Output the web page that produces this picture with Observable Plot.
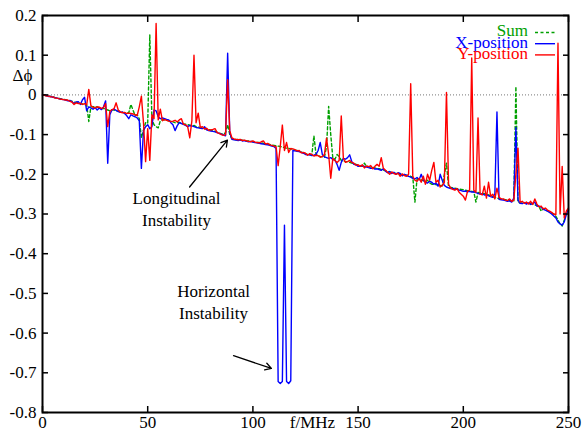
<!DOCTYPE html>
<html><head><meta charset="utf-8">
<script src="https://cdn.jsdelivr.net/npm/d3@7"></script>
<script src="https://cdn.jsdelivr.net/npm/@observablehq/plot@0.6"></script>
<style>
body{margin:0;background:#fff;}
#chart svg{font-family:"Liberation Serif","Times New Roman","DejaVu Serif",serif;}
</style>
</head><body><div id="chart"></div>
<script>
// Frequencies: samples every 1 MHz from 0 to 250 MHz
const freqStart = 0, freqStep = 1;

const sumValues = [
 0, -0.001, -0.002, -0.003, -0.004, -0.005, -0.007, -0.008, -0.009, -0.010,
 -0.011, -0.012, -0.014, -0.015, -0.016, -0.018, -0.019, -0.020, -0.022, -0.023,
 -0.024, -0.025, -0.067, -0.030, -0.030, -0.029, -0.031, -0.033, -0.035, -0.034,
 -0.036, -0.038, -0.040, -0.037, -0.038, -0.040, -0.041, -0.042, -0.044, -0.045,
 -0.046, -0.045, -0.024, -0.038, -0.052, -0.050, -0.060, -0.108, -0.088, -0.070,
 -0.072, 0.151, -0.060, -0.075, -0.080, -0.083, -0.065, -0.062, -0.063, -0.064,
 -0.065, -0.066, -0.068, -0.070, -0.070, -0.069, -0.072, -0.073, -0.074, -0.075,
 -0.076, -0.078, -0.077, -0.080, -0.081, -0.082, -0.083, -0.085, -0.086, -0.087,
 -0.089, -0.090, -0.092, -0.094, -0.096, -0.098, -0.100, -0.095, -0.075, -0.100,
 -0.110, -0.112, -0.113, -0.112, -0.114, -0.114, -0.115, -0.116, -0.116, -0.117,
 -0.118, -0.119, -0.120, -0.120, -0.121, -0.122, -0.123, -0.124, -0.125, -0.126,
 -0.127, -0.128, -0.129, -0.130, -0.131, -0.133, -0.134, -0.135, -0.136, -0.137,
 -0.139, -0.140, -0.142, -0.144, -0.146, -0.148, -0.150, -0.151, -0.152, -0.103,
 -0.150, -0.153, -0.155, -0.156, -0.157, -0.130, -0.029, -0.100, -0.160, -0.162,
 -0.150, -0.155, -0.165, -0.166, -0.168, -0.168, -0.170, -0.172, -0.173, -0.175,
 -0.177, -0.178, -0.180, -0.172, -0.180, -0.181, -0.182, -0.183, -0.184, -0.185,
 -0.186, -0.188, -0.189, -0.191, -0.193, -0.194, -0.196, -0.197, -0.198, -0.199,
 -0.200, -0.201, -0.202, -0.203, -0.204, -0.205, -0.207, -0.270, -0.212, -0.212,
 -0.214, -0.216, -0.218, -0.215, -0.222, -0.225, -0.226, -0.226, -0.227, -0.228,
 -0.229, -0.200, -0.172, -0.232, -0.233, -0.234, -0.235, -0.236, -0.237, -0.238,
 -0.239, -0.240, -0.241, -0.242, -0.243, -0.244, -0.270, -0.246, -0.247, -0.248,
 -0.249, -0.250, -0.252, -0.254, -0.256, -0.258, -0.260, -0.261, -0.262, -0.263,
 -0.264, -0.265, -0.266, -0.267, -0.268, 0.021, -0.270, -0.272, -0.272, -0.272,
 -0.273, -0.273, -0.274, -0.275, -0.277, -0.279, -0.281, -0.293, -0.286, -0.289,
 -0.292, -0.295, -0.298, -0.300, -0.306, -0.315, -0.325, -0.330, -0.315, -0.298,
 -0.290
];

const xPosValues = [
 0, -0.001, -0.002, -0.004, -0.004, -0.006, -0.007, -0.008, -0.010, -0.011,
 -0.012, -0.013, -0.015, -0.014, -0.017, -0.022, -0.018, -0.017, -0.024, -0.012,
 -0.006, -0.040, -0.030, -0.033, -0.036, -0.032, -0.038, -0.033, -0.037, -0.030,
 -0.015, -0.172, -0.050, -0.038, -0.036, -0.039, -0.042, -0.044, -0.043, -0.047,
 -0.052, -0.060, -0.050, -0.053, -0.055, -0.058, -0.065, -0.185, -0.090, -0.080,
 -0.075, -0.085, -0.080, -0.038, -0.040, -0.055, -0.060, -0.058, -0.060, -0.062,
 -0.063, -0.070, -0.075, -0.090, -0.078, -0.070, -0.072, -0.074, -0.077, -0.080,
 -0.077, -0.078, -0.080, -0.082, -0.083, -0.084, -0.085, -0.080, -0.088, -0.090,
 -0.091, -0.092, -0.093, -0.095, -0.097, -0.099, -0.101, -0.103, 0.105, -0.095,
 -0.112, -0.113, -0.114, -0.115, -0.113, -0.116, -0.115, -0.117, -0.118, -0.117,
 -0.119, -0.120, -0.121, -0.122, -0.123, -0.124, -0.125, -0.126, -0.127, -0.129,
 -0.130, -0.135, -0.722, -0.727, -0.722, -0.328, -0.722, -0.727, -0.720, -0.140,
 -0.141, -0.142, -0.143, -0.145, -0.147, -0.150, -0.151, -0.150, -0.153, -0.152,
 -0.150, -0.140, -0.120, -0.150, -0.156, -0.158, -0.160, -0.158, -0.163, -0.164,
 -0.175, -0.190, -0.170, -0.160, -0.162, -0.158, -0.151, -0.168, -0.175, -0.176,
 -0.180, -0.180, -0.178, -0.180, -0.182, -0.183, -0.185, -0.184, -0.187, -0.186,
 -0.188, -0.190, -0.186, -0.192, -0.196, -0.193, -0.198, -0.195, -0.200, -0.196,
 -0.198, -0.204, -0.200, -0.202, -0.205, -0.207, -0.210, -0.212, -0.208, -0.214,
 -0.200, -0.215, -0.220, -0.222, -0.218, -0.220, -0.225, -0.222, -0.230, -0.200,
 -0.215, -0.228, -0.232, -0.234, -0.236, -0.235, -0.238, -0.237, -0.240, -0.241,
 -0.243, -0.242, -0.244, -0.243, -0.245, -0.244, -0.246, -0.248, -0.250, -0.249,
 -0.252, -0.251, -0.254, -0.256, -0.258, -0.250, -0.043, -0.263, -0.264, -0.265,
 -0.266, -0.268, -0.267, -0.270, -0.260, -0.082, -0.265, -0.273, -0.274, -0.271,
 -0.275, -0.272, -0.276, -0.273, -0.270, -0.280, -0.280, -0.283, -0.288, -0.290,
 -0.293, -0.296, -0.300, -0.305, -0.310, -0.320, -0.325, -0.328, -0.320, -0.300,
 -0.288
];

const yPosValues = [
 0, -0.001, -0.003, -0.003, -0.005, -0.005, -0.008, -0.008, -0.010, -0.011,
 -0.012, -0.013, -0.013, -0.016, -0.018, -0.024, -0.020, -0.022, -0.021, -0.024,
 -0.022, -0.025, 0.014, -0.027, -0.031, -0.033, -0.030, -0.031, -0.034, -0.032,
 -0.022, -0.080, -0.042, -0.037, -0.035, -0.020, -0.038, -0.043, -0.045, -0.044,
 -0.047, -0.046, -0.047, -0.048, -0.050, -0.052, -0.030, -0.003, -0.070, -0.168,
 -0.085, -0.165, -0.050, -0.060, 0.180, -0.063, -0.036, -0.065, -0.062, -0.064,
 -0.066, -0.067, -0.066, -0.064, -0.068, -0.063, -0.060, -0.074, -0.075, -0.080,
 -0.108, -0.065, 0.100, -0.070, -0.046, -0.082, -0.080, -0.086, -0.084, -0.089,
 -0.088, -0.087, -0.085, -0.095, -0.097, -0.100, -0.102, -0.100, 0.038, -0.090,
 -0.108, -0.111, -0.112, -0.113, -0.112, -0.115, -0.114, -0.116, -0.117, -0.118,
 -0.116, -0.119, -0.120, -0.121, -0.118, -0.116, -0.124, -0.122, -0.126, -0.127,
 -0.129, -0.130, -0.178, -0.130, -0.076, -0.140, -0.120, -0.145, -0.135, -0.136,
 -0.138, -0.141, -0.140, -0.146, -0.145, -0.147, -0.152, -0.148, -0.150, -0.154,
 -0.152, -0.153, -0.157, -0.155, -0.150, -0.109, -0.150, -0.210, -0.160, -0.165,
 -0.170, -0.165, -0.053, -0.160, -0.170, -0.168, -0.165, -0.170, -0.172, -0.177,
 -0.176, -0.180, -0.176, -0.184, -0.179, -0.181, -0.178, -0.186, -0.180, -0.175,
 -0.180, -0.158, -0.185, -0.190, -0.195, -0.200, -0.194, -0.198, -0.200, -0.197,
 -0.205, -0.199, -0.203, -0.205, -0.200, 0.028, -0.205, -0.215, -0.218, -0.210,
 -0.220, -0.205, -0.225, -0.200, -0.215, -0.190, -0.170, -0.220, -0.215, -0.232,
 -0.228, -0.220, 0.006, -0.225, -0.235, -0.238, -0.240, -0.236, -0.245, -0.250,
 -0.255, -0.265, -0.243, -0.240, 0.093, -0.240, -0.245, -0.058, -0.250, -0.252,
 -0.230, -0.260, -0.220, -0.255, -0.250, -0.262, -0.235, -0.258, -0.262, -0.262,
 -0.265, -0.266, -0.262, -0.268, -0.265, -0.200, -0.134, -0.270, -0.268, -0.273,
 -0.270, -0.275, -0.268, -0.276, -0.262, -0.275, -0.282, -0.280, -0.287, -0.285,
 -0.290, -0.293, -0.296, -0.300, -0.302, 0.130, -0.300, -0.180, -0.310, -0.292,
 -0.285
];

const seriesNames = ["Sum", "X-position", "Y-position"];
const seriesColors = ["#00a000", "#0000ff", "#ff0000"];
const seriesDashes = ["3,2.5", null, null];

const xTicks = [0, 50, 100, 150, 200, 250];
const xTickLabels = ["0", "50", "100", "150", "200", "250"];
const yTicks = [-0.8, -0.7, -0.6, -0.5, -0.4, -0.3, -0.2, -0.1, 0, 0.1, 0.2];
const yTickLabels = ["-0.8", "-0.7", "-0.6", "-0.5", "-0.4", "-0.3", "-0.2", "-0.1", "0", "0.1", "0.2"];
const xAxisTitle = "f/MHz";
const yAxisTitle = "\u0394\u03d5";

const annotationTexts = ["Longitudinal\nInstability", "Horizontal\nInstability"];
const annotationF = [63.7, 81.3];
const annotationV = [-0.284, -0.52];
const arrowFrom = [[69.9, -0.232], [90.8, -0.657]];
const arrowTo = [[87.9, -0.114], [108.8, -0.689]];

const allValues = [sumValues, xPosValues, yPosValues];
const rows = seriesNames.flatMap((name, k) =>
  allValues[k].map((v, i) => ({series: name, f: freqStart + i * freqStep, v})));
const annotations = annotationTexts.map((t, i) => ({text: t, f: annotationF[i], v: annotationV[i]}));
const arrows = arrowFrom.map((a, i) => ({f1: a[0], v1: a[1], f2: arrowTo[i][0], v2: arrowTo[i][1]}));

const chart = Plot.plot({
  width: 582,
  height: 432,
  marginLeft: 42,
  marginRight: 14,
  marginTop: 15,
  marginBottom: 20,
  style: {fontFamily: '"Liberation Serif","Times New Roman",serif', fontSize: "17px", color: "black", background: "white", overflow: "visible"},
  x: {domain: [0, 250]},
  y: {domain: [-0.8, 0.2]},
  marks: [
    Plot.ruleY([0], {stroke: "#777", strokeWidth: 1, strokeDasharray: "1,2"}),
    ...seriesNames.map((name, k) => Plot.line(rows.filter(r => r.series === name), {
      x: "f", y: "v", stroke: seriesColors[k], strokeWidth: 1.4,
      strokeDasharray: seriesDashes[k] ?? undefined
    })),
    Plot.arrow(arrows, {x1: "f1", y1: "v1", x2: "f2", y2: "v2", stroke: "black", strokeWidth: 1.3, headLength: 8}),
    Plot.text(annotations, {x: "f", y: "v", text: "text", lineAnchor: "middle", textAnchor: "middle", lineHeight: 1.3, fill: "black"}),
    Plot.axisX(xTicks, {anchor: "bottom", tickSize: -6, tickPadding: 9, strokeWidth: 1.5, tickFormat: (d) => xTickLabels[xTicks.indexOf(d)], label: null}),
    Plot.axisX(xTicks, {anchor: "top", tickSize: -6, strokeWidth: 1.5, tickFormat: () => "", label: null}),
    Plot.axisY(yTicks, {anchor: "left", tickSize: -6, tickPadding: 12, strokeWidth: 1.5, tickFormat: (d) => yTickLabels[yTicks.indexOf(d)], label: null}),
    Plot.axisY(yTicks, {anchor: "right", tickSize: -6, strokeWidth: 1.5, tickFormat: () => "", label: null}),
    Plot.text([xAxisTitle], {frameAnchor: "bottom", text: d => d, dx: 7, dy: 3, lineAnchor: "top", fill: "black"}),
    Plot.text([yAxisTitle], {frameAnchor: "top-left", text: d => d, dx: -20, dy: 60, lineAnchor: "middle", textAnchor: "middle", fill: "black"}),
    Plot.frame({stroke: "black", strokeWidth: 2})
  ]
});

document.getElementById("chart").appendChild(chart);

// Legend (top-right, inside the frame), gnuplot style
const xs = chart.scale("x"), ys = chart.scale("y");
const frameRight = Math.max(...xs.range);
const frameTop = Math.min(...ys.range);
const leg = d3.select(chart).append("g").attr("class", "legend");
seriesNames.forEach((name, k) => {
  const ly = frameTop + 17.5 + k * 11.2;
  leg.append("text")
    .attr("x", frameRight - 40).attr("y", ly + 3.8)
    .attr("text-anchor", "end").attr("fill", seriesColors[k])
    .attr("font-size", 17)
    .text(name);
  leg.append("line")
    .attr("x1", frameRight - 33).attr("x2", frameRight - 13)
    .attr("y1", ly).attr("y2", ly)
    .attr("stroke", seriesColors[k]).attr("stroke-width", 1.4)
    .attr("stroke-dasharray", seriesDashes[k]);
});
</script>
</body></html>
